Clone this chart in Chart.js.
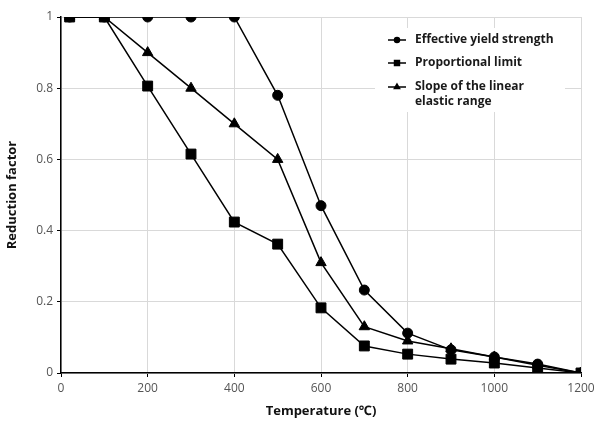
<!DOCTYPE html>
<html>
<head>
<meta charset="utf-8">
<script src="https://cdn.jsdelivr.net/npm/chart.js@4/dist/chart.umd.min.js"></script>
<style>
  html, body { margin: 0; padding: 0; background: #fff; }
  #wrap { width: 594px; height: 423px; }
</style>
</head>
<body>
<div id="wrap"><canvas id="chart"></canvas></div>
<script>
const temperatures = [20, 100, 200, 300, 400, 500, 600, 700, 800, 900, 1000, 1100, 1200];
const effectiveYield = [1, 1, 1, 1, 1, 0.78, 0.47, 0.233, 0.112, 0.065, 0.045, 0.025, 0];
const proportionalLimit = [1, 1, 0.806, 0.615, 0.424, 0.362, 0.183, 0.076, 0.053, 0.039, 0.028, 0.014, 0];
const linearSlope = [1, 1, 0.9, 0.8, 0.7, 0.6, 0.31, 0.13, 0.09, 0.068, 0.045, 0.022, 0];
const seriesNames = ['Effective yield strength', 'Proportional limit', ['Slope of the linear', 'elastic range']];
const markerStyles = ['circle', 'rect', 'triangle'];
const markerSizes = [5, 7, 6];

const toPoints = (ys) => ys.map((y, i) => ({ x: temperatures[i], y: y }));
const fontFamily = '"Open Sans", "Noto Sans", sans-serif';

// legend drawn inside the plot, top right, like the original
const insideLegend = {
  id: 'insideLegend',
  afterDraw(chart) {
    const ctx = chart.ctx;
    ctx.save();
    ctx.fillStyle = '#fff';
    ctx.fillRect(375, 28, 190, 84);
    const rows = [40, 63, 87];
    seriesNames.forEach((name, i) => {
      const y = rows[i];
      ctx.strokeStyle = '#000';
      ctx.lineWidth = 1.5;
      ctx.beginPath();
      ctx.moveTo(388, y);
      ctx.lineTo(406, y);
      ctx.stroke();
      ctx.fillStyle = '#000';
      Chart.helpers.drawPoint(ctx, { pointStyle: markerStyles[i], radius: markerSizes[i] * 0.5, rotation: 0, borderWidth: 1 }, 397, y);
      ctx.font = 'bold 12px ' + fontFamily;
      ctx.textBaseline = 'middle';
      ctx.fillStyle = '#1a1a1a';
      const lines = Array.isArray(name) ? name : [name];
      lines.forEach((t, k) => ctx.fillText(t, 415, y + k * 15));
    });
    ctx.restore();
  }
};

const ctx = document.getElementById('chart').getContext('2d');
new Chart(ctx, {
  type: 'line',
  data: {
    datasets: [effectiveYield, proportionalLimit, linearSlope].map((ys, i) => ({
      label: Array.isArray(seriesNames[i]) ? seriesNames[i].join(' ') : seriesNames[i],
      data: toPoints(ys),
      borderColor: '#000',
      backgroundColor: '#000',
      borderWidth: 1.5,
      pointStyle: markerStyles[i],
      pointRadius: markerSizes[i],
      pointBorderWidth: 1,
      tension: 0
    }))
  },
  options: {
    responsive: true,
    maintainAspectRatio: false,
    animation: false,
    layout: { padding: { top: 17, right: 0, left: 0, bottom: 0 } },
    plugins: {
      legend: { display: false },
      tooltip: { enabled: false }
    },
    scales: {
      x: {
        type: 'linear',
        min: 0,
        max: 1200,
        ticks: { stepSize: 200, color: '#555', font: { size: 12, family: fontFamily }, padding: 4, callback: (v) => String(v) },
        grid: { color: '#d9d9d9', tickColor: '#000', tickLength: 4 },
        border: { color: '#000', width: 1.5 },
        title: { display: true, text: 'Temperature (℃)', color: '#111', font: { size: 13, weight: 'bold', family: fontFamily }, padding: { top: 6 } },
        afterFit(scale) { scale.height = 50; scale.paddingRight = 13; }
      },
      y: {
        min: 0,
        max: 1,
        ticks: { stepSize: 0.2, color: '#555', font: { size: 12, family: fontFamily }, padding: 4, callback: (v) => String(Math.round(v * 10) / 10) },
        grid: { color: '#d9d9d9', tickColor: '#000', tickLength: 4 },
        border: { color: '#000', width: 1.5 },
        title: { display: true, text: 'Reduction factor', color: '#111', font: { size: 13, weight: 'bold', family: fontFamily } },
        afterFit(scale) { scale.width = 61; }
      }
    }
  },
  plugins: [insideLegend]
});
</script>
</body>
</html>
